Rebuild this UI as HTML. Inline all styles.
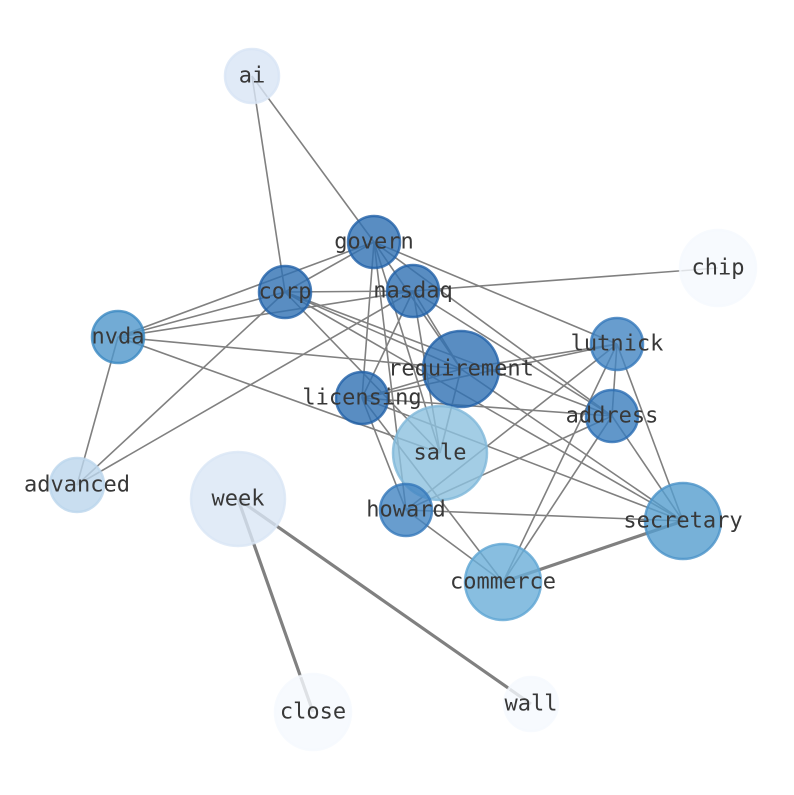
<!DOCTYPE html>
<html><head><meta charset="utf-8"><style>html,body{margin:0;background:#fff}</style></head>
<body>
<svg width="794" height="790" viewBox="0 0 794 790" xmlns="http://www.w3.org/2000/svg">
<g stroke="#808080" stroke-width="1.6">
<line x1="252" y1="76" x2="285" y2="292"/>
<line x1="252" y1="76" x2="374" y2="242"/>
<line x1="374" y1="242" x2="285" y2="292"/>
<line x1="374" y1="242" x2="118" y2="337"/>
<line x1="374" y1="242" x2="362" y2="398"/>
<line x1="374" y1="242" x2="440" y2="453"/>
<line x1="374" y1="242" x2="406" y2="510"/>
<line x1="374" y1="242" x2="461" y2="369"/>
<line x1="374" y1="242" x2="617" y2="344"/>
<line x1="374" y1="242" x2="612" y2="416"/>
<line x1="285" y1="292" x2="118" y2="337"/>
<line x1="285" y1="292" x2="413" y2="291"/>
<line x1="285" y1="292" x2="77" y2="485"/>
<line x1="285" y1="292" x2="440" y2="453"/>
<line x1="285" y1="292" x2="461" y2="369"/>
<line x1="285" y1="292" x2="612" y2="416"/>
<line x1="285" y1="292" x2="683" y2="521"/>
<line x1="413" y1="291" x2="118" y2="337"/>
<line x1="413" y1="291" x2="718" y2="268"/>
<line x1="413" y1="291" x2="362" y2="398"/>
<line x1="413" y1="291" x2="440" y2="453"/>
<line x1="413" y1="291" x2="461" y2="369"/>
<line x1="413" y1="291" x2="612" y2="416"/>
<line x1="413" y1="291" x2="77" y2="485"/>
<line x1="118" y1="337" x2="461" y2="369"/>
<line x1="118" y1="337" x2="440" y2="453"/>
<line x1="118" y1="337" x2="77" y2="485"/>
<line x1="617" y1="344" x2="461" y2="369"/>
<line x1="617" y1="344" x2="362" y2="398"/>
<line x1="617" y1="344" x2="612" y2="416"/>
<line x1="617" y1="344" x2="683" y2="521"/>
<line x1="617" y1="344" x2="406" y2="510"/>
<line x1="617" y1="344" x2="503" y2="582"/>
<line x1="461" y1="369" x2="362" y2="398"/>
<line x1="461" y1="369" x2="440" y2="453"/>
<line x1="461" y1="369" x2="683" y2="521"/>
<line x1="362" y1="398" x2="612" y2="416"/>
<line x1="362" y1="398" x2="406" y2="510"/>
<line x1="362" y1="398" x2="683" y2="521"/>
<line x1="362" y1="398" x2="503" y2="582"/>
<line x1="612" y1="416" x2="406" y2="510"/>
<line x1="612" y1="416" x2="503" y2="582"/>
<line x1="612" y1="416" x2="683" y2="521"/>
<line x1="406" y1="510" x2="683" y2="521"/>
<line x1="406" y1="510" x2="503" y2="582"/>
</g>
<g stroke="#808080" stroke-width="3.2">
<line x1="683" y1="521" x2="503" y2="582"/>
<line x1="238" y1="499" x2="313" y2="712"/>
<line x1="238" y1="499" x2="531" y2="704"/>
</g>
<g stroke-width="2.5" fill-opacity="0.8" stroke-opacity="0.8">
<circle cx="252" cy="76" r="27" fill="#d8e5f5" stroke="#d8e5f5"/>
<circle cx="374" cy="242" r="26" fill="#3070b3" stroke="#2060a8"/>
<circle cx="285" cy="292" r="26" fill="#3070b3" stroke="#2060a8"/>
<circle cx="413" cy="291" r="26" fill="#3070b3" stroke="#2060a8"/>
<circle cx="718" cy="268" r="38" fill="#f5f9fe" stroke="#f5f9fe"/>
<circle cx="118" cy="337" r="26" fill="#4f96cb" stroke="#3a88c2"/>
<circle cx="617" cy="344" r="26" fill="#4285c2" stroke="#3478ba"/>
<circle cx="461" cy="369" r="38" fill="#3070b3" stroke="#2060a8"/>
<circle cx="362" cy="398" r="26" fill="#3070b3" stroke="#2060a8"/>
<circle cx="612" cy="416" r="26" fill="#3a7dbd" stroke="#2a6db3"/>
<circle cx="440" cy="453" r="47" fill="#8cc1de" stroke="#80b8da"/>
<circle cx="77" cy="485" r="27" fill="#bcd6ec" stroke="#bcd6ec"/>
<circle cx="238" cy="499" r="47" fill="#dae6f5" stroke="#dae6f5"/>
<circle cx="406" cy="510" r="26" fill="#4285c2" stroke="#3478ba"/>
<circle cx="683" cy="521" r="38" fill="#559dce" stroke="#4a92c8"/>
<circle cx="503" cy="582" r="38" fill="#6aaed8" stroke="#5ea5d3"/>
<circle cx="313" cy="712" r="38" fill="#f5f9fe" stroke="#f5f9fe"/>
<circle cx="531" cy="704" r="27" fill="#f5f9fe" stroke="#f5f9fe"/>
</g>
<g font-family="'DejaVu Sans Mono','Liberation Mono',monospace" font-size="22" fill="#383838" text-anchor="middle" dominant-baseline="central">
<text x="252" y="76">ai</text>
<text x="374" y="242">govern</text>
<text x="285" y="292">corp</text>
<text x="413" y="291">nasdaq</text>
<text x="718" y="268">chip</text>
<text x="118" y="337">nvda</text>
<text x="617" y="344">lutnick</text>
<text x="461" y="369">requirement</text>
<text x="362" y="398">licensing</text>
<text x="612" y="416">address</text>
<text x="440" y="453">sale</text>
<text x="77" y="485">advanced</text>
<text x="238" y="499">week</text>
<text x="406" y="510">howard</text>
<text x="683" y="521">secretary</text>
<text x="503" y="582">commerce</text>
<text x="313" y="712">close</text>
<text x="531" y="704">wall</text>
</g>
</svg>
</body></html>
